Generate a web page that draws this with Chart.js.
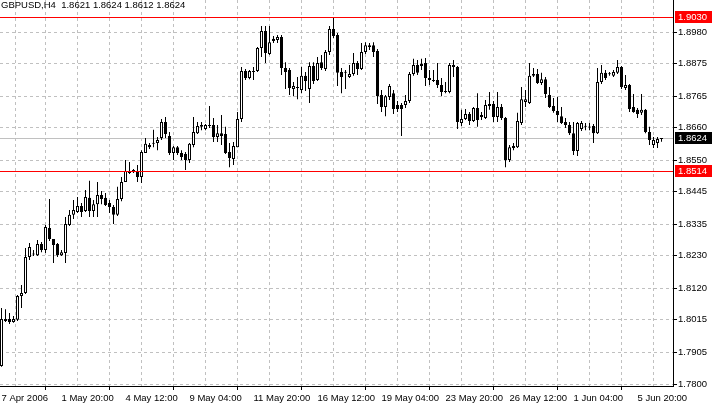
<!DOCTYPE html>
<html>
<head>
<meta charset="utf-8">
<script src="https://cdn.jsdelivr.net/npm/chart.js@4.4.1/dist/chart.umd.min.js"></script>
<style>
html,body{margin:0;padding:0;background:#ffffff;overflow:hidden}
canvas{display:block}
</style>
</head>
<body>
<canvas id="c" width="712" height="406" style="width:712px;height:406px"></canvas>
<script>
// ---- data (GBPUSD, H4) ----
const symbolTitle = 'GBPUSD,H4';
const lastQuote = [1.8621, 1.8624, 1.8612, 1.8624]; // O H L C of last bar

const opens = [
1.7860,1.8018,1.8018,1.8008,1.8015,1.8095,1.8105,1.8226,1.8236,1.8232,
1.8269,1.8249,1.8323,1.8286,1.8269,1.8232,1.8239,1.8333,1.8367,1.8377,
1.8397,1.8380,1.8424,1.8380,1.8403,1.8434,1.8424,1.8407,1.8393,1.8367,
1.8420,1.8477,1.8514,1.8510,1.8514,1.8494,1.8574,1.8601,1.8605,1.8608,
1.8625,1.8678,1.8631,1.8574,1.8594,1.8574,1.8571,1.8551,1.8601,1.8641,
1.8668,1.8655,1.8668,1.8668,1.8628,1.8641,1.8638,1.8578,1.8554,1.8594,
1.8688,1.8849,1.8826,1.8849,1.8849,1.8926,1.8983,1.8906,1.8957,1.8953,
1.8963,1.8859,1.8853,1.8789,1.8796,1.8786,1.8833,1.8789,1.8866,1.8819,
1.8879,1.8856,1.8913,1.8990,1.8970,1.8846,1.8846,1.8829,1.8839,1.8876,
1.8856,1.8913,1.8930,1.8936,1.8916,1.8769,1.8729,1.8762,1.8775,1.8735,
1.8735,1.8735,1.8749,1.8839,1.8869,1.8866,1.8876,1.8826,1.8819,1.8819,
1.8802,1.8779,1.8779,1.8869,1.8863,1.8675,1.8688,1.8705,1.8682,1.8725,
1.8695,1.8692,1.8739,1.8739,1.8695,1.8729,1.8692,1.8551,1.8591,1.8594,
1.8675,1.8745,1.8742,1.8833,1.8839,1.8809,1.8822,1.8769,1.8732,1.8715,
1.8698,1.8678,1.8668,1.8641,1.8581,1.8655,1.8662,1.8662,1.8665,1.8641,
1.8812,1.8843,1.8839,1.8833,1.8843,1.8863,1.8792,1.8802,1.8729,1.8719,
1.8709,1.8719,1.8645,1.8601,1.8608,1.8621
];
const highs = [
1.8055,1.8051,1.8038,1.8028,1.8098,1.8132,1.8256,1.8273,1.8249,1.8283,
1.8276,1.8333,1.8420,1.8286,1.8273,1.8249,1.8360,1.8383,1.8417,1.8427,
1.8407,1.8450,1.8481,1.8417,1.8477,1.8447,1.8440,1.8417,1.8400,1.8461,
1.8494,1.8551,1.8544,1.8521,1.8534,1.8584,1.8625,1.8608,1.8652,1.8628,
1.8688,1.8695,1.8645,1.8598,1.8598,1.8584,1.8578,1.8608,1.8695,1.8678,
1.8678,1.8672,1.8732,1.8692,1.8668,1.8702,1.8662,1.8608,1.8611,1.8712,
1.8863,1.8856,1.8853,1.8863,1.8930,1.9000,1.9000,1.9000,1.8967,1.8970,
1.8970,1.8879,1.8859,1.8812,1.8829,1.8863,1.8846,1.8879,1.8879,1.8896,
1.8903,1.8920,1.9000,1.9027,1.8977,1.8859,1.8853,1.8869,1.8910,1.8883,
1.8943,1.8946,1.8943,1.8946,1.8923,1.8786,1.8769,1.8806,1.8786,1.8749,
1.8742,1.8769,1.8846,1.8890,1.8886,1.8890,1.8893,1.8853,1.8853,1.8876,
1.8826,1.8812,1.8876,1.8886,1.8866,1.8719,1.8722,1.8712,1.8729,1.8775,
1.8712,1.8752,1.8779,1.8749,1.8779,1.8739,1.8695,1.8601,1.8608,1.8709,
1.8796,1.8786,1.8876,1.8859,1.8856,1.8843,1.8829,1.8796,1.8759,1.8762,
1.8729,1.8692,1.8678,1.8678,1.8678,1.8682,1.8675,1.8675,1.8672,1.8859,
1.8869,1.8853,1.8846,1.8853,1.8886,1.8866,1.8836,1.8806,1.8772,1.8725,
1.8772,1.8722,1.8662,1.8628,1.8628,1.8624
];
const lows = [
1.7858,1.8008,1.8001,1.8005,1.8011,1.8055,1.8102,1.8216,1.8229,1.8229,
1.8242,1.8239,1.8279,1.8206,1.8226,1.8229,1.8206,1.8330,1.8353,1.8373,
1.8360,1.8377,1.8360,1.8360,1.8360,1.8403,1.8397,1.8373,1.8336,1.8363,
1.8413,1.8477,1.8504,1.8507,1.8477,1.8474,1.8574,1.8588,1.8594,1.8584,
1.8618,1.8625,1.8568,1.8551,1.8568,1.8551,1.8517,1.8541,1.8594,1.8638,
1.8651,1.8651,1.8658,1.8611,1.8611,1.8601,1.8571,1.8527,1.8534,1.8594,
1.8678,1.8819,1.8822,1.8819,1.8846,1.8896,1.8876,1.8903,1.8943,1.8943,
1.8836,1.8789,1.8769,1.8765,1.8755,1.8775,1.8782,1.8742,1.8806,1.8816,
1.8853,1.8849,1.8903,1.8960,1.8799,1.8775,1.8789,1.8826,1.8833,1.8836,
1.8853,1.8906,1.8920,1.8896,1.8739,1.8712,1.8698,1.8752,1.8705,1.8712,
1.8631,1.8725,1.8742,1.8833,1.8836,1.8853,1.8799,1.8802,1.8812,1.8792,
1.8765,1.8775,1.8775,1.8829,1.8655,1.8665,1.8685,1.8668,1.8678,1.8662,
1.8685,1.8688,1.8719,1.8678,1.8678,1.8685,1.8527,1.8544,1.8584,1.8591,
1.8668,1.8729,1.8739,1.8829,1.8806,1.8802,1.8759,1.8725,1.8709,1.8678,
1.8672,1.8658,1.8635,1.8568,1.8564,1.8648,1.8651,1.8651,1.8608,1.8638,
1.8806,1.8819,1.8833,1.8829,1.8839,1.8789,1.8786,1.8712,1.8709,1.8692,
1.8702,1.8641,1.8601,1.8591,1.8591,1.8612
];
const closes = [
1.8018,1.8011,1.8008,1.8018,1.8095,1.8105,1.8226,1.8259,1.8234,1.8269,
1.8249,1.8326,1.8286,1.8266,1.8232,1.8242,1.8336,1.8367,1.8383,1.8397,
1.8377,1.8427,1.8380,1.8403,1.8434,1.8420,1.8400,1.8393,1.8367,1.8420,
1.8477,1.8514,1.8507,1.8517,1.8494,1.8578,1.8605,1.8594,1.8608,1.8618,
1.8678,1.8638,1.8574,1.8594,1.8574,1.8561,1.8551,1.8605,1.8645,1.8665,
1.8662,1.8668,1.8665,1.8628,1.8641,1.8631,1.8574,1.8558,1.8598,1.8688,
1.8849,1.8826,1.8849,1.8846,1.8926,1.8983,1.8910,1.8946,1.8950,1.8963,
1.8859,1.8846,1.8792,1.8799,1.8792,1.8833,1.8816,1.8866,1.8816,1.8876,
1.8859,1.8913,1.8990,1.8967,1.8843,1.8829,1.8843,1.8839,1.8876,1.8856,
1.8913,1.8936,1.8936,1.8913,1.8765,1.8729,1.8765,1.8799,1.8722,1.8722,
1.8722,1.8749,1.8839,1.8869,1.8843,1.8873,1.8826,1.8819,1.8816,1.8802,
1.8779,1.8782,1.8869,1.8863,1.8678,1.8688,1.8705,1.8682,1.8725,1.8685,
1.8702,1.8735,1.8732,1.8695,1.8729,1.8692,1.8551,1.8594,1.8598,1.8682,
1.8755,1.8755,1.8833,1.8839,1.8809,1.8822,1.8772,1.8729,1.8715,1.8702,
1.8675,1.8668,1.8641,1.8581,1.8675,1.8675,1.8665,1.8660,1.8641,1.8812,
1.8843,1.8826,1.8838,1.8846,1.8863,1.8796,1.8802,1.8722,1.8712,1.8705,
1.8719,1.8645,1.8618,1.8618,1.8621,1.8624
];

// time axis labels (bar index -> text)
const xTickIndex = [0, 15, 31, 47, 63, 79, 95, 111, 127, 143, 159];
const xTickText = ['7 Apr 2006', '1 May 20:00', '4 May 12:00', '9 May 04:00', '11 May 20:00',
  '16 May 12:00', '19 May 04:00', '23 May 20:00', '26 May 12:00', '1 Jun 04:00', '5 Jun 20:00'];

// price axis labels
const yTickValues = [1.8980, 1.8875, 1.8765, 1.8660, 1.8550, 1.8445, 1.8335, 1.8230, 1.8120, 1.8015, 1.7905, 1.7800];

// horizontal levels and current bid
const levelLines = [1.9030, 1.8514];
const bidPrice = 1.8624;

// visible price range of the window
const priceMax = 1.90873;
const priceMin = 1.77933;
// ---------------------------------------------------

const FONT = 'Liberation Sans';
const FSIZE = 9.5;
const RED = 'rgb(255,0,0)';
const indices = opens.map((_, i) => i);
const isBull = indices.map(i => closes[i] >= opens[i]);

const wickData = indices.map(i => ({x: i, y: [lows[i], highs[i]]}));
const bodyData = indices.map(i => ({x: i, y: [Math.min(opens[i], closes[i]), Math.max(opens[i], closes[i])]}));

const overlay = {
  id: 'overlay',
  beforeDatasetsDraw(chart) {
    const {ctx, chartArea: a, scales: {y}} = chart;
    const row = Math.round(y.getPixelForValue(bidPrice) - 0.5);
    ctx.save();
    ctx.globalAlpha = 1;
    ctx.fillStyle = '#c0c0c0';
    ctx.fillRect(a.left, row, a.right - a.left, 1);
    ctx.restore();
  },
  afterDatasetsDraw(chart) {
    const {ctx, chartArea: a, scales: {y}} = chart;
    ctx.save();
    ctx.globalAlpha = 1;
    ctx.globalCompositeOperation = 'source-over';
    ctx.fillStyle = RED;
    levelLines.forEach(v => {
      const row = Math.round(y.getPixelForValue(v) - 0.5);
      ctx.fillRect(a.left, row, a.right - a.left, 1);
    });
    ctx.restore();
  },
  afterDraw(chart) {
    const {ctx, chartArea: a, scales: {y}} = chart;
    ctx.save();
    ctx.font = FSIZE + 'px "' + FONT + '"';
    ctx.textBaseline = 'middle';
    ctx.textAlign = 'left';
    const box = (v, bg) => {
      const py = Math.round(y.getPixelForValue(v));
      ctx.fillStyle = bg;
      ctx.fillRect(a.right + 2, py - 6, 712 - a.right - 2, 12);
      ctx.fillStyle = '#ffffff';
      ctx.fillText(v.toFixed(4), a.right + 5, py);
    };
    levelLines.forEach(v => box(v, RED));
    box(bidPrice, '#000000');
    // title
    ctx.fillStyle = '#000000';
    ctx.textBaseline = 'top';
    ctx.fillText(symbolTitle + '  ' + lastQuote.map(v => v.toFixed(4)).join(' '), 1, 1);
    ctx.restore();
  }
};

new Chart(document.getElementById('c'), {
  type: 'bar',
  data: {
    datasets: [
      {
        label: 'body',
        data: bodyData,
        order: 0,
        grouped: false,
        barThickness: 3,
        minBarLength: 1,
        backgroundColor: indices.map(i => isBull[i] ? '#ffffff' : '#000000'),
        borderColor: '#000000',
        borderWidth: 1,
        borderSkipped: false,
        inflateAmount: 0
      },
      {
        label: 'wick',
        data: wickData,
        order: 1,
        grouped: false,
        barThickness: 1,
        minBarLength: 1,
        backgroundColor: '#000000',
        borderWidth: 0,
        inflateAmount: 0
      }
    ]
  },
  options: {
    responsive: false,
    animation: false,
    devicePixelRatio: 1,
    events: [],
    layout: {padding: 0},
    plugins: {legend: {display: false}, tooltip: {enabled: false}, title: {display: false}},
    scales: {
      x: {
        type: 'linear',
        min: -0.375,
        max: 167.875,
        offset: false,
        afterBuildTicks: s => {
          const t = [{value: 0}];
          for (let v = 7; v <= 167; v += 8) t.push({value: v});
          s.ticks = t;
        },
        afterFit: s => { s.height = 20; s.paddingLeft = 0; s.paddingRight = 0; },
        ticks: {
          autoSkip: false, maxRotation: 0, minRotation: 0, align: 'start', padding: 3,
          color: '#000000', font: {family: FONT, size: FSIZE},
          callback: v => { const k = xTickIndex.indexOf(v); return k < 0 ? '' : xTickText[k]; }
        },
        grid: {
          color: c => (c.tick && c.tick.value === 0) ? 'rgba(0,0,0,0)' : '#c0c0c0',
          lineWidth: 1,
          tickLength: 4,
          tickColor: c => (c.tick && xTickIndex.includes(c.tick.value) && c.tick.value !== 0) ? '#000000' : 'rgba(0,0,0,0)'
        },
        border: {display: true, color: '#000000', width: 1, dash: [3, 3]}
      },
      y: {
        type: 'linear',
        position: 'right',
        min: priceMin,
        max: priceMax,
        afterBuildTicks: s => { s.ticks = yTickValues.map(v => ({value: v})); },
        afterFit: s => { s.width = 39; s.paddingTop = 0; s.paddingBottom = 0; },
        ticks: {
          autoSkip: false, padding: 1, color: '#000000', font: {family: FONT, size: FSIZE},
          callback: v => Number(v).toFixed(4)
        },
        grid: {color: '#c0c0c0', lineWidth: 1, tickLength: 4, tickColor: '#000000'},
        border: {display: true, color: '#000000', width: 1, dash: [3, 3]}
      }
    }
  },
  plugins: [overlay]
});
</script>
</body>
</html>
